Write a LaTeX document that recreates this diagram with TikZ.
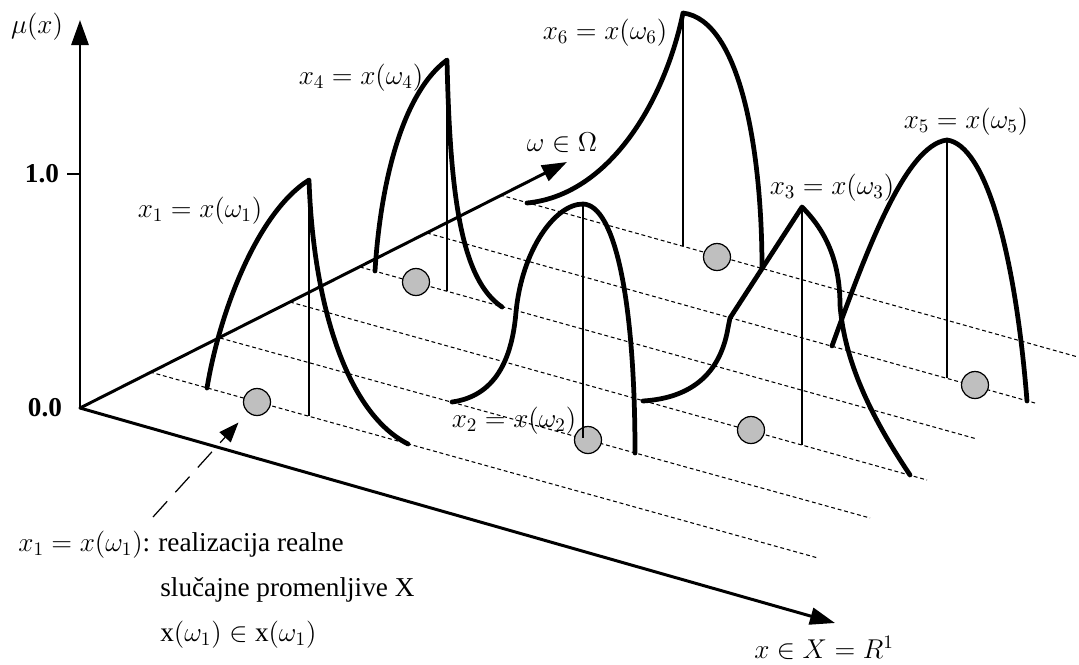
\RequirePackage{fix-cm}
\documentclass[tikz,border=0pt]{standalone}
\usepackage{fontspec}
\setmainfont{Liberation Serif}
\usepackage{tikz}
\usetikzlibrary{arrows.meta,calc}

\begin{document}
\begin{tikzpicture}[
        x=0.02cm,
        y=-0.02cm,
        font=\fontsize{15.5}{18}\selectfont,
        axis/.style={
            line width=1.7pt,
            line cap=round,
            -{Triangle[length=5mm,width=3.4mm]}
        },
        pulse/.style={
            line width=2.7pt,
            line cap=round,
            line join=round
        },
        guide/.style={
            line width=0.7pt
        },
        gridline/.style={
            line width=0.6pt,
            dash pattern=on 2.2pt off 1.6pt
        },
        ball/.style={
            circle,
            draw,
            line width=0.7pt,
            fill=black!25,
            minimum size=0.54cm,
            inner sep=0pt
        },
        pointer/.style={
            line width=0.7pt,
            dash pattern=on 12pt off 7pt,
            -{Triangle[length=4mm,width=3mm]}
        },
        note/.style={
            anchor=west,
            inner sep=0pt
        }
    ]

        \useasboundingbox (0,0) rectangle (1079,664);

        % Axes end points
        \coordinate (O)      at (80,408);
        \coordinate (mu-tip) at (80,20);
        \coordinate (om-tip) at (567,162);
        \coordinate (x-tip)  at (835,623);
        \coordinate (one)    at (80,174);

        % Dotted lines from the omega axis, parallel to the x axis
        \draw[gridline] (150,372) -- (818,558);
        \draw[gridline] (220,338) -- (870,518);
        \draw[gridline] (290,302) -- (927,480);
        \draw[gridline] (360,267) -- (977,439);
        \draw[gridline] (427,233) -- (1035,403);
        \draw[gridline] (500,195) -- (1078,357);

        % Realisations on the dotted lines
        \node[ball] (b1) at (257,402) {};
        \node[ball] (b4) at (416,282) {};
        \node[ball] (b6) at (717,257) {};
        \node[ball] (b2) at (588,440) {};
        \node[ball] (b3) at (751,430) {};
        \node[ball] (b5) at (975,385) {};

        % Thin lines under the peaks
        \draw[guide] (309,180) -- (309,416);
        \draw[guide] (447,60)  -- (447,291);
        \draw[guide] (683,13)  -- (683,246);
        \draw[guide] (583,204) -- (583,438);
        \draw[guide] (802,207) -- (802,445);
        \draw[guide] (947,140) -- (947,378);

        % Membership curves
        \draw[pulse] (207,388) .. controls (220,310) and (258,212) .. (309,180)
                     .. controls (313,300) and (345,412) .. (408,444);

        \draw[pulse] (375,271) .. controls (380,190) and (400,95) .. (447,60)
                     .. controls (450,200) and (462,280) .. (502,307);

        \draw[pulse] (527,203) .. controls (610,195) and (665,100) .. (683,13)
                     .. controls (740,20) and (762,150) .. (762,268);

        \draw[pulse] (452,402) .. controls (495,396) and (512,360) .. (516,312)
                     .. controls (522,250) and (555,204) .. (583,204)
                     .. controls (615,205) and (635,300) .. (635,453);

        \draw[pulse] (643,401) .. controls (690,398) and (720,375) .. (728,328)
                     -- (730,318) -- (802,207)
                     .. controls (825,230) and (840,260) .. (840,305)
                     .. controls (845,370) and (880,430) .. (910,475);

        \draw[pulse] (832,346) .. controls (865,255) and (905,145) .. (947,140)
                     .. controls (985,145) and (1015,250) .. (1027,401);

        % Axes
        \draw[axis] (O) -- (mu-tip);
        \draw[axis] (O) -- (om-tip);
        \draw[axis] (O) -- (x-tip);
        \draw[line width=1.5pt] (one) -- ++(-13,0);

        % Axis labels
        \node (mu-lbl)   at (37,27)   {$\mu(x)$};
        \node (one-lbl)  at (42,174)  {\textbf{1.0}};
        \node (zero-lbl) at (45,408)  {\textbf{0.0}};
        \node (om-lbl)   at (562,143) {$\omega\in\Omega$};
        \node (x-lbl)    at (824,648) {$x\in X=R^{1}$};

        % Curve labels
        \node (lbl1) at (200,211) {$x_1 = x(\omega_1)$};
        \node (lbl4) at (361,78)  {$x_4 = x(\omega_4)$};
        \node (lbl6) at (605,33)  {$x_6 = x(\omega_6)$};
        \node (lbl5) at (966,122) {$x_5 = x(\omega_5)$};
        \node (lbl3) at (832,188) {$x_3 = x(\omega_3)$};
        \node (lbl2) at (514,421) {$x_2 = x(\omega_2)$};

        % Note at the bottom left
        \node[note] (note1) at (18,545)
            {$x_1 = x(\omega_1)$:\hspace{0.3em}realizacija realne};
        \node[note] (note2) at (160,590)
            {slučajne promenljive X};
        \node[note] (note3) at (160,635)
            {$\mathrm{x}(\omega_1)\in\mathrm{x}(\omega_1)$};

        \coordinate (ptr) at (153,517);
        \draw[pointer,shorten >=0.27cm] (ptr) -- (b1);

    \end{tikzpicture}
\end{document}
